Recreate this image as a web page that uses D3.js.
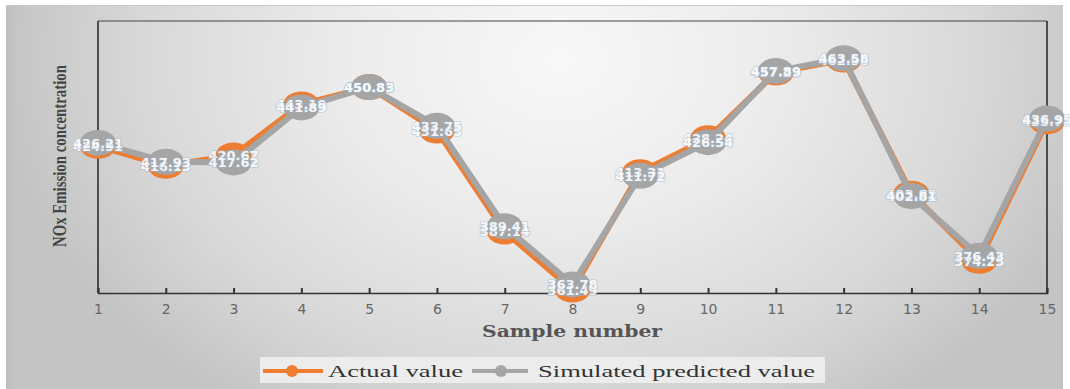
<!DOCTYPE html>
<html>
<head>
<meta charset="utf-8">
<script src="https://cdn.jsdelivr.net/npm/d3@7"></script>
<style>
html,body{margin:0;padding:0;background:#fff;}
svg{display:block;}
</style>
</head>
<body>
<svg id="chart" width="1070" height="389"></svg>
<script>
const samples = [1,2,3,4,5,6,7,8,9,10,11,12,13,14,15];
const actualValues = [424.91, 416.13, 420.67, 443.19, 450.85, 431.65, 387.14, 361.49, 413.31, 428.24, 457.29, 462.98, 403.82, 374.25, 435.75];
const predictedValues = [426.21, 417.93, 417.62, 441.89, 450.83, 433.75, 389.41, 363.78, 411.72, 426.54, 457.89, 463.58, 402.81, 376.43, 436.95];
const seriesNames = ["Actual value", "Simulated predicted value"];
const seriesColors = ["#ED7D31", "#A5A5A5"];
const xTitle = "Sample number";
const yTitle = "NOx Emission concentration";
const yDomain = [360, 480];

const svg = d3.select("#chart");
const defs = svg.append("defs");
const rg = defs.append("radialGradient").attr("id","bg")
  .attr("gradientUnits","userSpaceOnUse")
  .attr("cx",560).attr("cy",60).attr("r",560)
  .attr("gradientTransform","translate(560,60) scale(1,0.75) translate(-560,-60)");
rg.append("stop").attr("offset","0%").attr("stop-color","#f8f8f8");
rg.append("stop").attr("offset","40%").attr("stop-color","#ebebeb");
rg.append("stop").attr("offset","75%").attr("stop-color","#d8d8d8");
rg.append("stop").attr("offset","100%").attr("stop-color","#c4c4c4");
const lgEdge = defs.append("linearGradient").attr("id","edge").attr("x1","0").attr("x2","1").attr("y1","0").attr("y2","0");
lgEdge.append("stop").attr("offset","0").attr("stop-color","#bdbdbd").attr("stop-opacity",0.8);
lgEdge.append("stop").attr("offset","1").attr("stop-color","#bdbdbd").attr("stop-opacity",0);

// document text fragments clipped at top
svg.append("text").attr("x",0).attr("y",-9).attr("font-family","Liberation Serif").attr("font-size",22).attr("fill","#000").text("y");
svg.append("text").attr("x",557).attr("y",-9).attr("font-family","Liberation Serif").attr("font-size",22).attr("fill","#000").text("p");

// outer panel
svg.append("rect").attr("x",6).attr("y",5).attr("width",1057).attr("height",384)
  .attr("fill","url(#bg)");
svg.append("rect").attr("x",6).attr("y",5).attr("width",12).attr("height",384).attr("fill","url(#edge)");
svg.append("line").attr("x1",6).attr("x2",1063).attr("y1",5.5).attr("y2",5.5).attr("stroke","#c8c8c8").attr("stroke-width",1);

const x = d3.scaleLinear().domain([1,15]).range([98,1047]);
const y = d3.scaleLinear().domain(yDomain).range([293,21]);

// plot frame
svg.append("line").attr("x1",98).attr("x2",1047).attr("y1",21).attr("y2",21).attr("stroke","#444").attr("stroke-width",1);
svg.append("line").attr("x1",98).attr("x2",98).attr("y1",21).attr("y2",293).attr("stroke","#222").attr("stroke-width",1.5);
svg.append("line").attr("x1",1047).attr("x2",1047).attr("y1",21).attr("y2",293).attr("stroke","#222").attr("stroke-width",1.5);

// x axis
const xAxis = d3.axisBottom(x).tickValues(samples).tickFormat(d3.format("d")).tickSize(-5).tickPadding(11);
const gx = svg.append("g").attr("transform","translate(0,293)").call(xAxis);
gx.select(".domain").attr("stroke","#333").attr("stroke-width",1.5);
gx.selectAll(".tick line").attr("stroke","#333").attr("stroke-width",2);
gx.selectAll(".tick text").attr("font-family","DejaVu Sans").attr("font-size",14).attr("fill","#666");

// axis titles
svg.append("text").attr("x",572).attr("y",337).attr("text-anchor","middle")
  .attr("font-family","DejaVu Serif").attr("font-weight","bold").attr("font-size",16).attr("fill","#555")
  .attr("textLength",180).attr("lengthAdjust","spacingAndGlyphs").text(xTitle);
svg.append("text").attr("transform","translate(66,156) rotate(-90)").attr("text-anchor","middle")
  .attr("font-family","Liberation Serif").attr("font-weight","bold").attr("font-size",18).attr("fill","#444")
  .attr("textLength",182).attr("lengthAdjust","spacingAndGlyphs").text(yTitle);

const line = d3.line().x((d,i)=>x(samples[i])).y(d=>y(d));
const allSeries = [actualValues, predictedValues];

allSeries.forEach((vals, si) => {
  svg.append("path").datum(vals).attr("d",line).attr("fill","none")
    .attr("stroke",seriesColors[si]).attr("stroke-width",6).attr("stroke-linejoin","round");
  svg.append("g").selectAll("ellipse").data(vals).join("ellipse")
    .attr("cx",(d,i)=>x(samples[i])).attr("cy",d=>y(d))
    .attr("rx",18).attr("ry",13).attr("fill",seriesColors[si]);
});

// data labels
allSeries.forEach((vals, si) => {
  svg.append("g").selectAll("text").data(vals).join("text")
    .attr("x",(d,i)=>x(samples[i])).attr("y",d=>y(d)+5)
    .attr("text-anchor","middle").attr("font-family","DejaVu Sans").attr("font-weight","bold")
    .attr("font-size",13).attr("fill","#fff").attr("fill-opacity",0.9)
    .attr("stroke","#9fb4c8").attr("stroke-opacity",0.45).attr("stroke-width",2).attr("paint-order","stroke")
    .text(d=>d.toFixed(2));
});

// legend
const lg = svg.append("g");
lg.append("rect").attr("x",260).attr("y",357).attr("width",565).attr("height",26).attr("fill","#ececec");
const legendItems = [
  {x1:263,x2:323,cx:292,tx:328,tw:135},
  {x1:472,x2:528,cx:501,tx:538,tw:277}
];
legendItems.forEach((it,i)=>{
  lg.append("line").attr("x1",it.x1).attr("x2",it.x2).attr("y1",371).attr("y2",371)
    .attr("stroke",seriesColors[i]).attr("stroke-width",4);
  lg.append("circle").attr("cx",it.cx).attr("cy",371).attr("r",6).attr("fill",seriesColors[i]);
  lg.append("text").attr("x",it.tx).attr("y",377).attr("font-family","Liberation Serif")
    .attr("font-size",17).attr("fill","#333").attr("textLength",it.tw).attr("lengthAdjust","spacingAndGlyphs")
    .text(seriesNames[i]);
});
</script>
</body>
</html>
